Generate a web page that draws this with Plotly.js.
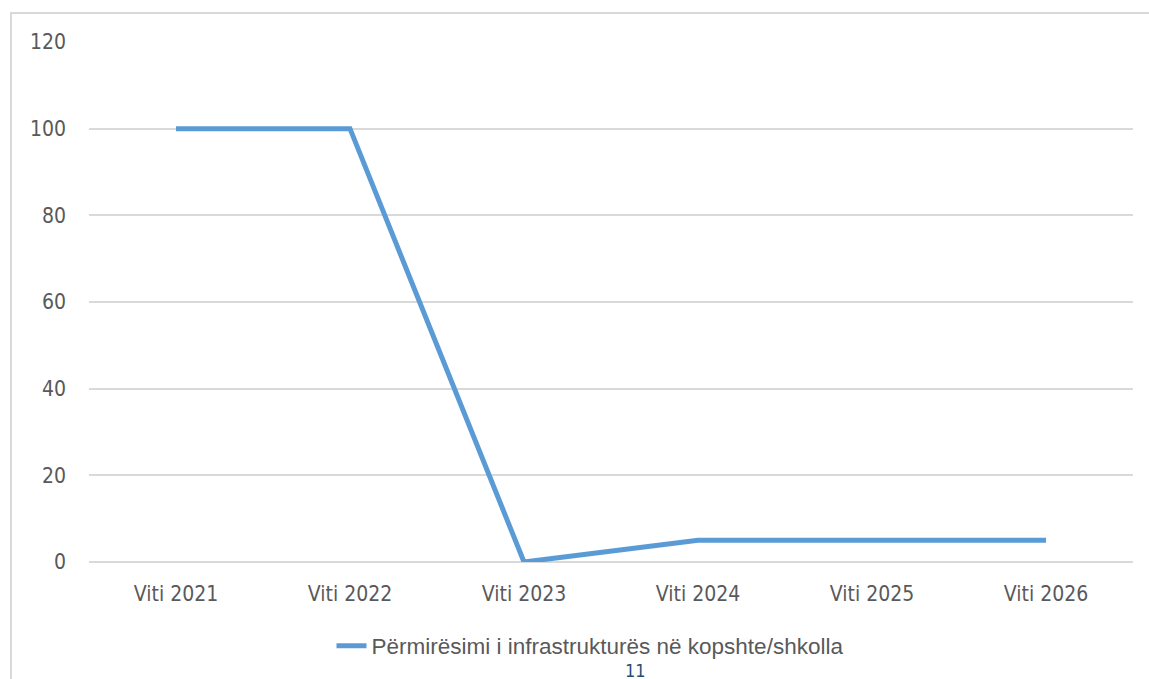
<!DOCTYPE html>
<html><head><meta charset="utf-8">
<script src="https://cdn.plot.ly/plotly-3.0.1.min.js"></script>
<style>html,body{margin:0;padding:0;background:#fff;}#chart{width:1149px;height:679px;}</style>
</head><body><div id="chart"></div>
<script>
const categories = ["Viti 2021","Viti 2022","Viti 2023","Viti 2024","Viti 2025","Viti 2026"];
const values = [100, 100, 0, 5, 5, 5];
const seriesName = "Përmirësimi i infrastrukturës në kopshte/shkolla";
const yTicks = [0, 20, 40, 60, 80, 100, 120];
const pageNumber = "11";

const L = 89, R = 16, T = 42, B = 117, W = 1149, H = 679;
const pw = W - L - R, ph = H - T - B;
const px = x => (x - L) / pw;
const py = y => 1 - (y - T) / ph;

Plotly.newPlot('chart', [{
  x: categories, y: values, type: 'scatter', mode: 'lines', name: seriesName,
  line: {color: '#5B9BD5', width: 5}
}], {
  width: W, height: H,
  margin: {l: L, r: R, t: T, b: B, pad: 0},
  paper_bgcolor: '#fff', plot_bgcolor: '#fff',
  showlegend: true,
  legend: {orientation: 'h', x: px(590), xanchor: 'center', xref: 'paper', y: py(646), yanchor: 'middle',
    font: {family: 'Liberation Sans, Arial, sans-serif', size: 22.5, color: '#595959'}},
  xaxis: {type: 'category', range: [-0.5, 5.5], showgrid: false, zeroline: false,
    showline: false, ticks: '', ticklabelstandoff: 17,
    tickfont: {family: 'DejaVu Sans Condensed, sans-serif', size: 21, color: '#595959'}},
  yaxis: {range: [0, 120], tickvals: yTicks, ticktext: yTicks.map(String), showgrid: true, gridcolor: '#D9D9D9', gridwidth: 2,
    zeroline: true, zerolinecolor: '#D9D9D9', zerolinewidth: 2, showline: false, ticks: '', ticklabelstandoff: 22,
    tickfont: {family: 'DejaVu Sans Condensed, sans-serif', size: 21, color: '#595959'}},
  shapes: [{type: 'rect', xref: 'paper', yref: 'paper', x0: px(11), x1: px(1152), y0: py(700), y1: py(13),
    line: {color: '#D9D9D9', width: 2}, fillcolor: 'rgba(0,0,0,0)'}],
  annotations: [{text: pageNumber, xref: 'paper', yref: 'paper', x: px(635), y: py(670), xanchor: 'center', yanchor: 'middle',
    showarrow: false, font: {family: 'DejaVu Sans Condensed, sans-serif', size: 18, color: '#1F4E79'}}]
}, {displayModeBar: false, staticPlot: true});
</script></body></html>
